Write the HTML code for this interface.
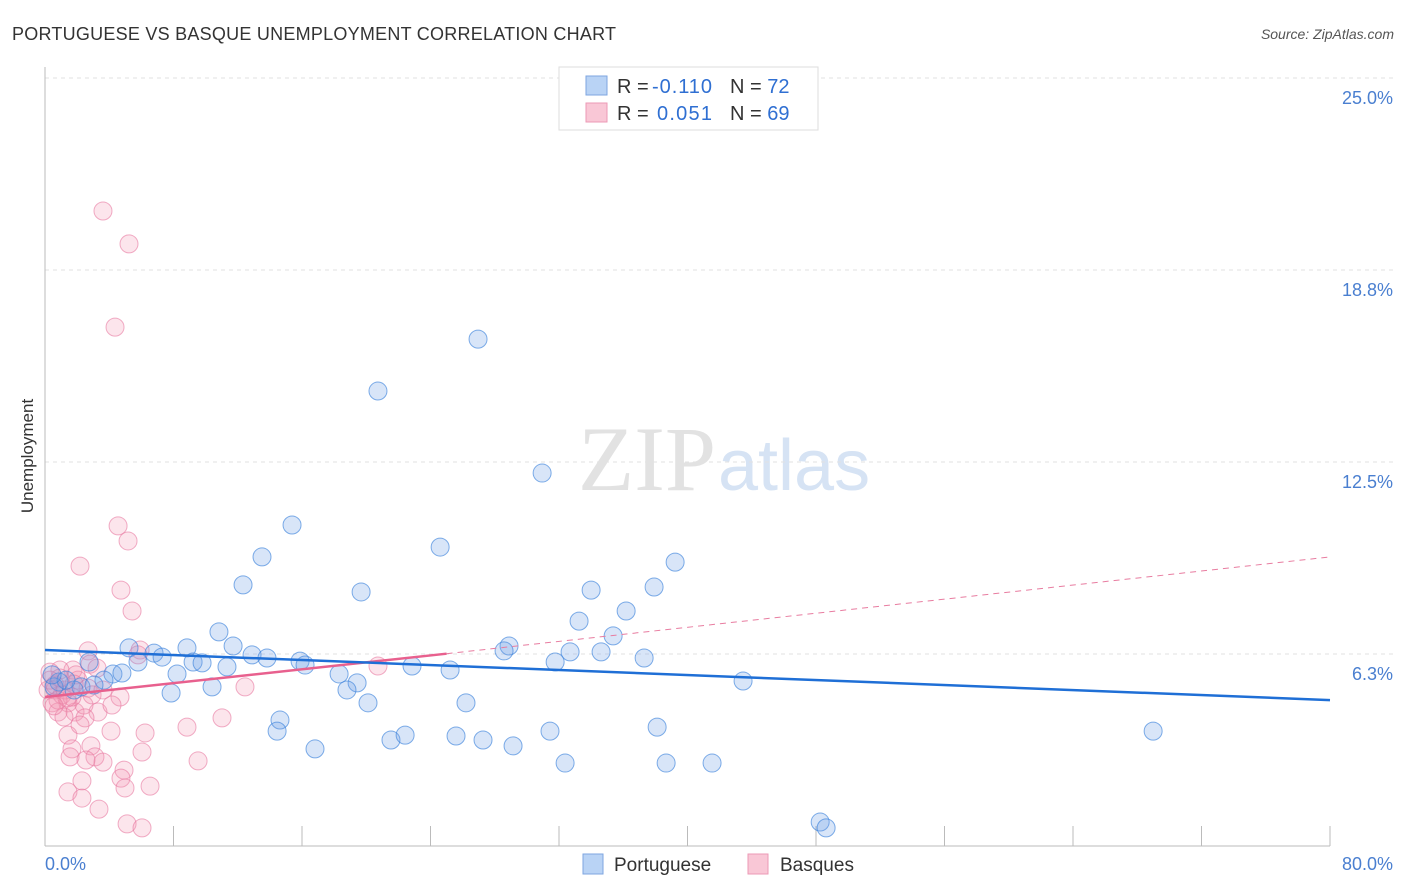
<!DOCTYPE html>
<html><head><meta charset="utf-8"><style>
body{margin:0;background:#fff;font-family:"Liberation Sans",sans-serif}
svg{display:block}
</style></head><body>
<svg id="c" width="1406" height="892" xmlns="http://www.w3.org/2000/svg">
<text x="12" y="40" font-size="18" fill="#333" textLength="604">PORTUGUESE VS BASQUE UNEMPLOYMENT CORRELATION CHART</text>
<text x="1394" y="39" font-size="14" fill="#555" font-style="italic" text-anchor="end">Source: ZipAtlas.com</text>
<text x="716" y="490" font-size="92" fill="#e2e2e2" text-anchor="end" font-family="Liberation Serif,serif">ZIP</text>
<text x="718" y="490" font-size="72" fill="#d6e3f4">atlas</text>
<g id="grid"></g>
<g id="axes"></g>
<g id="pts"></g>
<g id="lines"></g>
<text transform="translate(33,456) rotate(-90)" font-size="17" fill="#333" text-anchor="middle">Unemployment</text>
<text x="45" y="870" font-size="18" fill="#4a7fd0">0.0%</text>
<text x="1393" y="870" font-size="18" fill="#4a7fd0" text-anchor="end">80.0%</text>
<g>
<rect x="559" y="67" width="259" height="63" fill="#fff" stroke="#ddd"/>
<rect x="586" y="76" width="21" height="19" fill="#b9d3f5" stroke="#7ea6e0"/>
<rect x="586" y="103" width="21" height="19" fill="#f9c7d6" stroke="#ec9ab6"/>
<text x="617" y="93" font-size="20" fill="#333">R = </text>
<text x="652" y="93" font-size="20" fill="#2f6fd2" textLength="60">-0.110</text>
<text x="730" y="93" font-size="20" fill="#333">N = <tspan fill="#2f6fd2">72</tspan></text>
<text x="617" y="120" font-size="20" fill="#333">R = </text>
<text x="657" y="120" font-size="20" fill="#2f6fd2" textLength="55">0.051</text>
<text x="730" y="120" font-size="20" fill="#333">N = <tspan fill="#2f6fd2">69</tspan></text>
</g>
<g>
<rect x="583" y="854" width="20" height="20" fill="#b9d3f5" stroke="#7ea6e0"/>
<text x="614" y="871" font-size="19" fill="#333">Portuguese</text>
<rect x="748" y="854" width="20" height="20" fill="#f9c7d6" stroke="#ec9ab6"/>
<text x="780" y="871" font-size="19" fill="#333">Basques</text>
</g>
</svg>
<script>
const yTicks=[6.25,12.5,18.75,25];
const yTickLabels=["6.3%","12.5%","18.8%","25.0%"];
const xTicks=[0,8,16,24,32,40,48,56,64,72,80];
const blueX=[26.96,20.73,30.95,15.38,24.60,13.51,39.23,12.33,19.68,34.00,37.92,36.18,33.25,10.83,35.37,11.71,5.23,8.84,28.89,28.58,32.69,34.62,6.79,7.29,12.89,13.82,2.74,5.79,9.22,9.78,15.88,16.19,11.33,22.85,25.22,31.76,37.30,4.23,4.79,3.67,8.22,18.31,19.43,18.80,10.40,7.85,2.24,1.81,0.87,0.56,1.31,20.11,26.21,43.46,14.63,14.45,31.44,38.11,68.99,21.54,22.42,25.59,27.27,29.14,16.81,32.38,38.67,41.53,48.26,48.63,0.44,3.05];
const blueY=[16.50,14.81,12.14,10.45,9.73,9.41,9.24,8.50,8.27,8.33,8.43,7.65,7.32,6.97,6.84,6.51,6.45,6.45,6.51,6.35,6.32,6.32,6.28,6.15,6.22,6.12,5.99,5.99,5.99,5.96,6.02,5.89,5.83,5.86,5.73,5.99,6.12,5.60,5.63,5.40,5.60,5.60,5.31,5.08,5.18,4.98,5.18,5.08,5.34,5.18,5.40,4.66,4.66,5.37,4.10,3.74,3.74,3.87,3.74,3.45,3.61,3.58,3.45,3.26,3.16,2.70,2.70,2.70,0.78,0.59,5.57,5.24];
const pinkX=[3.61,5.23,4.36,4.55,5.17,2.18,4.73,5.42,2.68,5.92,2.80,5.79,1.74,0.93,0.31,3.24,2.05,4.67,12.45,20.73,0.19,0.62,1.06,0.44,1.43,1.87,0.81,2.43,3.30,4.17,1.18,11.02,8.84,4.11,2.49,6.23,1.43,2.86,1.68,6.04,9.53,1.56,3.11,3.61,4.92,2.30,4.73,4.98,6.54,1.43,2.30,3.36,5.11,6.04,0.31,0.62,1.25,1.68,0.81,2.68,1.93,2.93,3.61,2.18,1.37,0.93,0.56,1.81,2.55];
const pinkY=[20.67,19.60,16.89,10.42,9.93,9.11,8.33,7.65,6.35,6.38,5.92,6.22,5.73,5.73,5.66,5.79,5.40,4.85,5.18,5.86,5.08,5.08,4.92,4.66,4.66,4.36,4.36,4.59,4.36,4.59,4.20,4.17,3.87,3.74,4.17,3.68,3.61,3.26,3.16,3.06,2.77,2.90,2.90,2.73,2.47,2.12,2.21,1.89,1.95,1.76,1.56,1.20,0.72,0.59,5.40,5.24,5.08,4.85,4.75,5.14,5.57,4.92,5.08,3.94,4.82,5.47,4.56,5.27,2.80];
const blueLine=[[0,6.38],[80,4.75]];
const pinkSolid=[[0,4.85],[25,6.26]];
const pinkDash=[[25,6.26],[80,9.41]];
const NS="http://www.w3.org/2000/svg";
const X=v=>45+v*(1285/80);
const Y=v=>846-v*30.72;
function mk(tag,attrs,parent){const e=document.createElementNS(NS,tag);for(const k in attrs)e.setAttribute(k,attrs[k]);document.getElementById(parent).appendChild(e);return e;}
yTicks.forEach((t,i)=>{
 const l=mk('line',{x1:45,x2:1395,y1:Y(t),y2:Y(t),stroke:'#e2e2e2','stroke-dasharray':'4,4'},'grid');
 
 
 const tx=mk('text',{x:1393,y:Y(t)+26,'font-size':18,fill:'#4a7fd0','text-anchor':'end'},'grid');
 tx.textContent=yTickLabels[i];
 
 
});
const ya=mk('line',{x1:45,x2:45,y1:67,y2:846,stroke:'#bbb'},'axes');


const xa=mk('line',{x1:45,x2:1330,y1:846,y2:846,stroke:'#bbb'},'axes');


xTicks.forEach(t=>{
 const k=mk('line',{x1:X(t),x2:X(t),y1:826,y2:846,stroke:'#bbb'},'axes');
 
 
});
function dots(xs,ys,fill,stroke,name){xs.forEach((x,i)=>{
 const c=mk('circle',{cx:X(x),cy:Y(ys[i]),r:9,fill:fill,stroke:stroke,'stroke-width':1},'pts');
 
 
});}
dots(pinkX,pinkY,'rgba(243,150,180,0.25)','rgba(232,120,160,0.6)','basques-point');
dots(blueX,blueY,'rgba(110,160,230,0.27)','rgba(60,130,220,0.65)','portuguese-point');
function ln(p,stroke,w,dash,name){
 const l=mk('line',{x1:X(p[0][0]),y1:Y(p[0][1]),x2:X(p[1][0]),y2:Y(p[1][1]),stroke:stroke,'stroke-width':w},'lines');
 if(dash)l.setAttribute('stroke-dasharray',dash);
 
 
}
ln(pinkDash,'#e87ca0',1,'6,5','basques-trend-dashed');
ln(pinkSolid,'#e8608e',2.5,null,'basques-trend');
ln(blueLine,'#1f6fd6',2.5,null,'portuguese-trend');
</script>
</body></html>
